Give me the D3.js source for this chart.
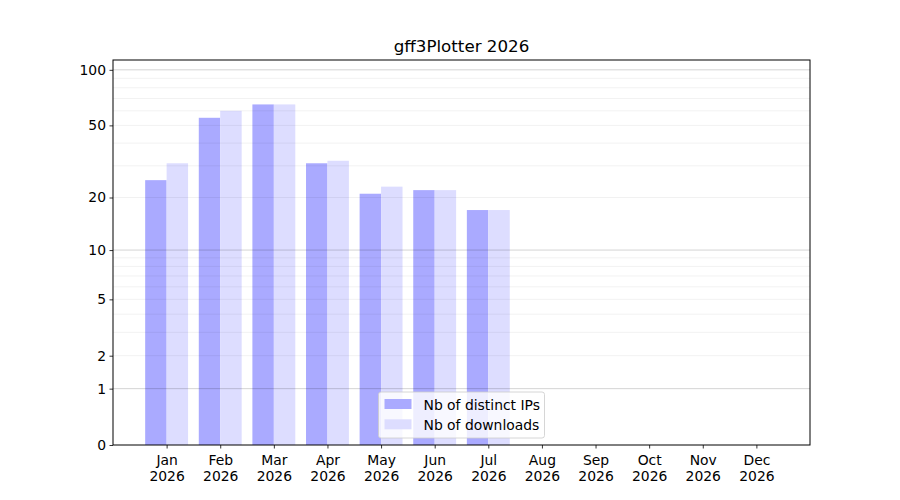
<!DOCTYPE html>
<html>
<head>
<meta charset="utf-8">
<script src="https://cdn.jsdelivr.net/npm/d3@7"></script>
<style>
  body { margin: 0; background: #fff; }
  svg { font-family: "DejaVu Sans", sans-serif; }
</style>
</head>
<body>
<div id="chart"></div>
<script>
// Data
const months = ["Jan", "Feb", "Mar", "Apr", "May", "Jun", "Jul", "Aug", "Sep", "Oct", "Nov", "Dec"];
const year = "2026";
const distinctIPs = [25, 55, 65, 31, 21, 22, 17];
const downloads = [31, 60, 65, 32, 23, 22, 17];
const yTicks = [0, 1, 2, 5, 10, 20, 50, 100];
const majorGrid = [1, 10, 100];
const minorGrid = [2, 3, 4, 5, 6, 7, 8, 9, 20, 30, 40, 50, 60, 70, 80, 90];

const width = 900, height = 500;
const margin = { top: 60, right: 90, bottom: 55, left: 113 };
const innerW = width - margin.left - margin.right;
const innerH = height - margin.top - margin.bottom;

const svg = d3.select("#chart")
  .append("svg")
  .attr("width", width)
  .attr("height", height);

const g = svg.append("g")
  .attr("transform", "translate(" + margin.left + "," + margin.top + ")");

// Scales: month index on x, symlog on y
const x = d3.scaleLinear().domain([-1, months.length]).range([0, innerW]);
const y = d3.scaleSymlog().constant(1).domain([0, 113]).range([innerH, 0]);

const barW = x(0.4) - x(0);

// Bars
g.selectAll(".ip")
  .data(distinctIPs)
  .join("rect")
  .attr("class", "ip")
  .attr("x", (d, i) => x(i) - barW)
  .attr("width", barW)
  .attr("y", d => y(d))
  .attr("height", d => innerH - y(d))
  .style("fill", "#aaaaff");

g.selectAll(".dl")
  .data(downloads)
  .join("rect")
  .attr("class", "dl")
  .attr("x", (d, i) => x(i))
  .attr("width", barW)
  .attr("y", d => y(d))
  .attr("height", d => innerH - y(d))
  .style("fill", "#ddddff");

// Grid lines on top of bars
g.selectAll(".minor")
  .data(minorGrid)
  .join("line")
  .attr("x1", 0).attr("x2", innerW)
  .attr("y1", d => y(d)).attr("y2", d => y(d))
  .style("stroke", "#000")
  .style("stroke-opacity", 0.07)
  .style("stroke-width", 0.8);

g.selectAll(".major")
  .data(majorGrid)
  .join("line")
  .attr("x1", 0).attr("x2", innerW)
  .attr("y1", d => y(d)).attr("y2", d => y(d))
  .style("stroke", "#000")
  .style("stroke-opacity", 0.22)
  .style("stroke-width", 0.8);

// Axes
const yAxis = g.append("g")
  .call(d3.axisLeft(y).tickValues(yTicks).tickFormat(d3.format("d")).tickSize(3.5).tickPadding(3.5));

const xAxis = g.append("g")
  .attr("transform", "translate(0," + innerH + ")")
  .call(d3.axisBottom(x).tickValues(d3.range(months.length)).tickFormat("").tickSize(3.5));

xAxis.selectAll(".tick")
  .append("text")
  .attr("fill", "#000")
  .attr("text-anchor", "middle")
  .selectAll("tspan")
  .data(i => [months[i], year])
  .join("tspan")
  .attr("x", 0)
  .attr("y", (d, k) => 19.5 + k * 16)
  .text(d => d);

svg.selectAll(".tick text").style("font-size", "13.9px").style("font-family", "DejaVu Sans, sans-serif");
svg.selectAll(".domain").remove();
svg.selectAll(".tick line").style("stroke", "#000").style("stroke-width", 0.8);

// Frame
g.append("rect")
  .attr("width", innerW)
  .attr("height", innerH)
  .style("fill", "none")
  .style("stroke", "#000")
  .style("stroke-width", 1);

// Title
svg.append("text")
  .attr("x", margin.left + innerW / 2)
  .attr("y", margin.top - 8)
  .attr("text-anchor", "middle")
  .style("font-size", "16.7px")
  .text("gff3Plotter " + year);

// Legend, lower center
const legendItems = [
  { label: "Nb of distinct IPs", color: "#aaaaff" },
  { label: "Nb of downloads", color: "#ddddff" },
];
const lgW = 166, lgH = 46;
const legend = g.append("g")
  .attr("transform", "translate(" + (innerW / 2 - lgW / 2) + "," + (innerH - lgH - 7) + ")");

legend.append("rect")
  .attr("width", lgW)
  .attr("height", lgH)
  .attr("rx", 2.5)
  .style("fill", "#fff")
  .style("fill-opacity", 0.8)
  .style("stroke", "#ccc")
  .style("stroke-width", 0.8);

const item = legend.selectAll(".item")
  .data(legendItems)
  .join("g")
  .attr("transform", (d, i) => "translate(6," + (7 + i * 20.3) + ")");

item.append("rect")
  .attr("width", 27)
  .attr("height", 10)
  .style("fill", d => d.color);

item.append("text")
  .attr("x", 39)
  .attr("y", 10.5)
  .style("font-size", "13.9px")
  .text(d => d.label);
</script>
</body>
</html>
